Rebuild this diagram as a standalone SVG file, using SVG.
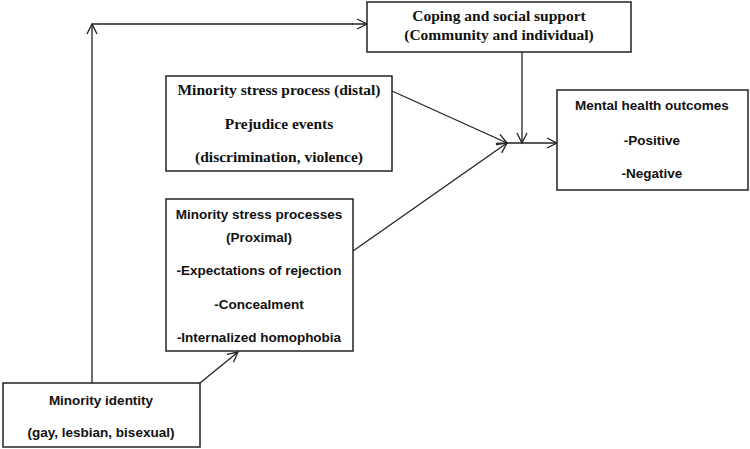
<svg xmlns="http://www.w3.org/2000/svg" width="750" height="449" viewBox="0 0 750 449">
<defs>
<marker id="arr" markerUnits="userSpaceOnUse" markerWidth="12" markerHeight="12" refX="10" refY="5" orient="auto" overflow="visible">
<path d="M0,0 L10,5 L0,10" fill="none" stroke="#222" stroke-width="1.3"/>
</marker>
<style>
.box{fill:#fff;stroke:#222;stroke-width:1.5}
.serif{font-family:"Liberation Serif",serif;font-weight:bold;font-size:15.5px;fill:#111;text-anchor:middle}
.sans{font-family:"Liberation Sans",sans-serif;font-weight:bold;font-size:13.5px;fill:#111;text-anchor:middle}
.conn line,.conn polyline{stroke:#222;stroke-width:1.3;fill:none}
</style>
</defs>
<rect width="750" height="449" fill="#fff"/>
<g class="conn" id="connectors">
<line x1="92" y1="383" x2="92" y2="24" marker-end="url(#arr)"/>
<line x1="92" y1="24" x2="367" y2="24" marker-end="url(#arr)"/>
<line x1="522" y1="52" x2="522" y2="143" marker-end="url(#arr)"/>
<line x1="392" y1="91" x2="507" y2="143" marker-end="url(#arr)"/>
<line x1="353" y1="251" x2="507" y2="143" marker-end="url(#arr)"/>
<line x1="507" y1="143" x2="557" y2="143" marker-end="url(#arr)"/>
<line x1="200" y1="383" x2="238" y2="352" marker-end="url(#arr)"/>
</g>
<g id="coping">
<rect class="box" x="367" y="2" width="264" height="50"/>
<text class="serif" x="499" y="21">Coping and social support</text>
<text class="serif" x="499" y="40">(Community and individual)</text>
</g>
<g id="distal">
<rect class="box" x="166" y="76" width="226" height="95"/>
<text class="serif" x="279" y="95">Minority stress process (distal)</text>
<text class="serif" x="279" y="129">Prejudice events</text>
<text class="serif" x="279" y="162">(discrimination, violence)</text>
</g>
<g id="outcomes">
<rect class="box" x="557" y="90" width="191" height="100"/>
<text class="sans" x="652" y="110">Mental health outcomes</text>
<text class="sans" x="652" y="145">-Positive</text>
<text class="sans" x="652" y="178">-Negative</text>
</g>
<g id="proximal">
<rect class="box" x="166" y="199" width="187" height="152"/>
<text class="sans" x="259" y="219">Minority stress processes</text>
<text class="sans" x="259" y="242">(Proximal)</text>
<text class="sans" x="259" y="275">-Expectations of rejection</text>
<text class="sans" x="259" y="309">-Concealment</text>
<text class="sans" x="259" y="342">-Internalized homophobia</text>
</g>
<g id="identity">
<rect class="box" x="3" y="383" width="197" height="64"/>
<text class="sans" x="101" y="405">Minority identity</text>
<text class="sans" x="101" y="437">(gay, lesbian, bisexual)</text>
</g>
</svg>
